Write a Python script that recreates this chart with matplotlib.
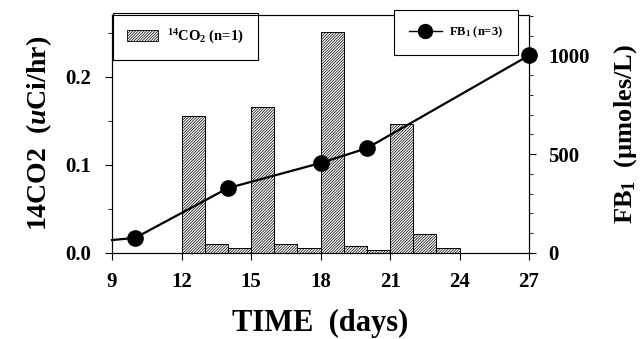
import matplotlib.pyplot as plt
from matplotlib.ticker import MultipleLocator
from matplotlib.patches import Patch
from matplotlib.lines import Line2D

plt.rcParams['font.family'] = ['Liberation Serif', 'DejaVu Serif']
plt.rcParams['font.weight'] = 'bold'
plt.rcParams['hatch.linewidth'] = 0.5
plt.rcParams['hatch.color'] = '#333333'
plt.rcParams['mathtext.fontset'] = 'custom'
plt.rcParams['mathtext.rm'] = 'Liberation Serif:bold'
plt.rcParams['mathtext.it'] = 'Liberation Serif:bold:italic'
plt.rcParams['mathtext.bf'] = 'Liberation Serif:bold'

# 14CO2 release per day (bars span one day starting at day)
bar_days = [12, 13, 14, 15, 16, 17, 18, 19, 20, 21, 22, 23]
co2_rate = [0.155, 0.010, 0.005, 0.166, 0.010, 0.005, 0.251, 0.008, 0.003, 0.146, 0.022, 0.005]

# FB1 concentration
fb_days = [9, 10, 14, 18, 20, 27]
fb_conc = [65, 76, 328, 455, 530, 1000]

xticks = [9, 12, 15, 18, 21, 24, 27]

fig = plt.figure(figsize=(6.42, 3.39), dpi=100)
ax = fig.add_axes([0.1745, 0.254, 0.6495, 0.702])
ax2 = ax.twinx()

ax.bar(bar_days, co2_rate, width=1.0, align='edge', facecolor='white',
       edgecolor='black', linewidth=0.7, hatch='////////////', zorder=2)
ax2.plot(fb_days, fb_conc, color='black', linewidth=1.6, marker='o',
         markersize=11, markevery=[1, 2, 3, 4, 5], zorder=3, clip_on=False)

ax.set_xlim(9, 27)
ax.set_ylim(0, 0.27)
ax2.set_ylim(0, 1205)
ax.set_xticks(xticks)
ax.set_yticks([0.0, 0.1, 0.2])
ax.set_yticklabels(['0.0', '0.1', '0.2'])
ax.yaxis.set_minor_locator(MultipleLocator(0.05))
ax2.set_yticks([0, 500, 1000])
ax2.yaxis.set_minor_locator(MultipleLocator(100))

ax.tick_params(axis='both', which='major', direction='out', length=5, width=0.8,
               labelsize=15)
ax.tick_params(axis='y', which='major', pad=10)
ax.tick_params(axis='x', which='major', pad=9)
ax.tick_params(axis='y', which='minor', direction='out', length=3, width=0.6)
ax2.tick_params(axis='y', which='major', direction='out', length=5, width=0.8,
                labelsize=15, pad=9)
ax2.tick_params(axis='y', which='minor', direction='out', length=3, width=0.6)
for lab in ax.get_xticklabels() + ax.get_yticklabels() + ax2.get_yticklabels():
    lab.set_fontweight('bold')
for sp in list(ax.spines.values()) + list(ax2.spines.values()):
    sp.set_linewidth(0.8)

ax.set_xlabel('TIME  (days)', fontsize=22, fontweight='bold', labelpad=12)
ax.set_ylabel(r'14CO2  ($\mathit{u}$Ci/hr)', fontsize=20, fontweight='bold', labelpad=8)
ax2.set_ylabel('FB$_1$  (\u00b5moles/L)', fontsize=19, fontweight='bold', labelpad=16)

h1 = Patch(facecolor='white', edgecolor='black', hatch='////////////', linewidth=0.6)
leg1 = ax.legend([h1], [r'$^{14}$CO$_2$ (n=1)'], loc='upper left',
                 bbox_to_anchor=(0.002, 1.008), borderaxespad=0,
                 fancybox=False, edgecolor='black',
                 framealpha=1, prop={'size': 10.5, 'weight': 'bold'},
                 handlelength=2.1, handleheight=0.8, borderpad=1.0,
                 handletextpad=0.6)
leg1.get_frame().set_linewidth(0.8)
h2 = Line2D([], [], color='black', marker='o', markersize=10, linewidth=1.0)
leg2 = ax2.legend([h2], [r'FB$_1$ (n=3)'], loc='upper right',
                  bbox_to_anchor=(0.974, 1.021), borderaxespad=0,
                  fancybox=False, edgecolor='black',
                  framealpha=1, prop={'size': 9, 'weight': 'bold'},
                  handlelength=2.6, borderpad=1.2, handletextpad=0.6)
leg2.get_frame().set_linewidth(0.8)

fig.savefig('out.png', dpi=100)
